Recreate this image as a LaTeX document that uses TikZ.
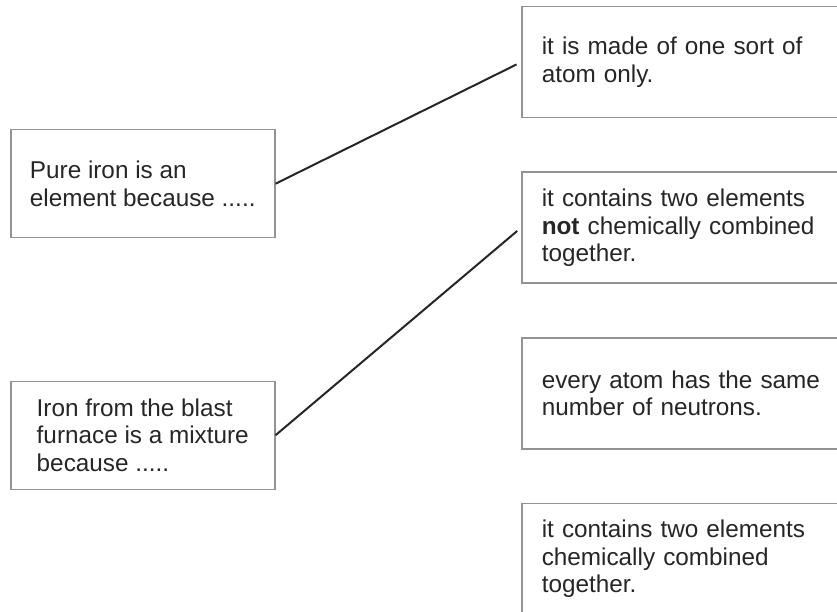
\documentclass[tikz,border=0pt]{standalone}
\usepackage{fontspec}
\setmainfont{Liberation Sans}
\usetikzlibrary{positioning}

\tikzset{
	reason/.style={rectangle, draw=gray!85, line width=1.5pt, anchor=north west,
		minimum width=264pt, minimum height=108pt, align=left, text=black!85,
		font=\fontsize{24.3pt}{27.5pt}\selectfont},
	answer/.style={reason, minimum width=340pt, minimum height=111pt,
		text width=300pt, inner xsep=20pt},
	match/.style={line width=2pt, draw=black!85, shorten >=5pt}
}

\begin{document}
\begin{tikzpicture}[x=1pt, y=1pt]
		\clip (0,0) rectangle (837,611);
		% left column
		\node[reason] (lb1) at (10,482) {Pure iron is an\\element because .....};
		\node[reason, below=142pt of lb1] (lb2) {Iron from the blast\\furnace is a mixture\\because .....};
		% right column
		\node[answer] (rb1) at (521,605) {it is made of one sort of\\atom only.};
		\node[answer, below=53pt of rb1] (rb2) {it contains two elements\\\textbf{not} chemically combined\\together.};
		\node[answer, below=53pt of rb2] (rb3) {every atom has the same\\number of neutrons.};
		\node[answer, below=53pt of rb3] (rb4) {it contains two elements\\chemically combined\\together.};
		\draw[match] (lb1.east) -- (rb1.west);
		\draw[match] (lb2.east) -- (rb2.west);
	\end{tikzpicture}
\end{document}
